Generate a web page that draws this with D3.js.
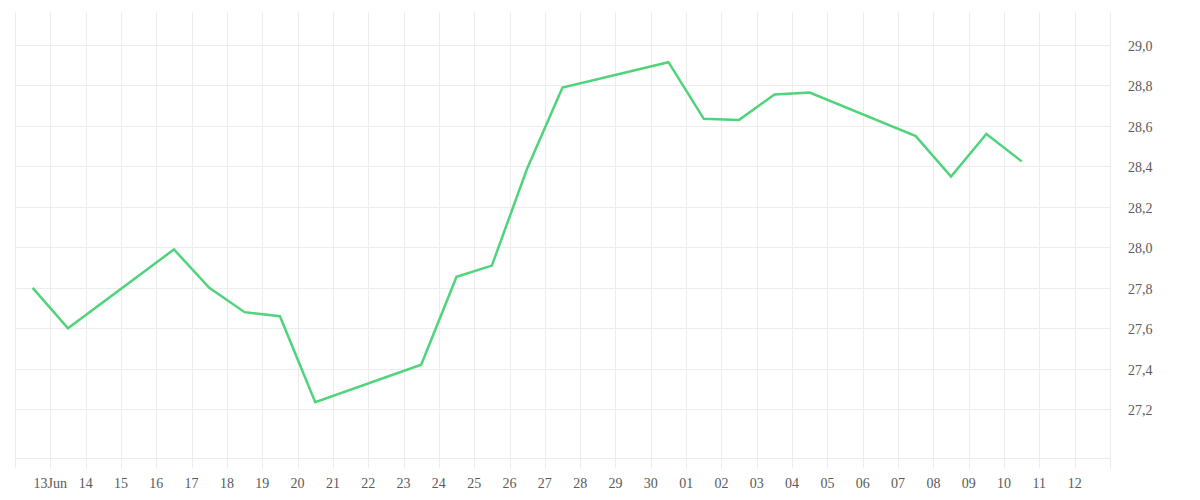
<!DOCTYPE html>
<html>
<head>
<meta charset="utf-8">
<script src="https://cdn.jsdelivr.net/npm/d3@7"></script>
<style>
  html, body { margin: 0; padding: 0; background: #fff; }
  svg { display: block; }
  text { font-family: "Liberation Serif", serif; font-size: 14px; fill: #5a5a5a; }
</style>
</head>
<body>
<svg id="chart" width="1200" height="500"></svg>
<script>
// ---- data ----
const dates = [
  "2023-06-12T12:00", "2023-06-13T12:00", "2023-06-16T12:00", "2023-06-17T12:00",
  "2023-06-18T12:00", "2023-06-19T12:00", "2023-06-20T12:00", "2023-06-23T12:00",
  "2023-06-24T12:00", "2023-06-25T12:00", "2023-06-26T12:00", "2023-06-27T12:00",
  "2023-06-30T12:00", "2023-07-01T12:00", "2023-07-02T12:00", "2023-07-03T12:00",
  "2023-07-04T12:00", "2023-07-07T12:00", "2023-07-08T12:00", "2023-07-09T12:00",
  "2023-07-10T12:00"
];
const values = [
  27.80, 27.60, 27.99, 27.80,
  27.68, 27.66, 27.235, 27.42,
  27.855, 27.91, 28.39, 28.79,
  28.915, 28.635, 28.63, 28.755,
  28.765, 28.55, 28.35, 28.56,
  28.425
];
const xTickLabels = ["13Jun","14","15","16","17","18","19","20","21","22","23","24","25","26","27","28","29","30",
  "01","02","03","04","05","06","07","08","09","10","11","12"];
const yTickValues = [27.2, 27.4, 27.6, 27.8, 28.0, 28.2, 28.4, 28.6, 28.8, 29.0];
const yTickLabels = ["27,2","27,4","27,6","27,8","28,0","28,2","28,4","28,6","28,8","29,0"];

// ---- layout ----
const mLeft = 15, mRight = 1110, mTop = 12, mBottom = 458.3, tickLen = 10;
const parseT = d3.utcParse("%Y-%m-%dT%H:%M");
const data = dates.map((d, i) => ({ t: parseT(d), v: values[i] }));

const x = d3.scaleUtc()
  .domain([Date.UTC(2023, 5, 12), Date.UTC(2023, 6, 13)])
  .range([mLeft, mRight]);
const y = d3.scaleLinear()
  .domain([26.958, 29.163])
  .range([mBottom, mTop]);

const svg = d3.select("#chart");
const grid = "#ececec";

// vertical day grid lines (with tick extension)
const dayTicks = d3.utcDay.range(new Date(Date.UTC(2023, 5, 12)), new Date(Date.UTC(2023, 6, 13, 1)));
svg.append("g").selectAll("line").data(dayTicks).join("line")
  .attr("x1", d => Math.round(x(d)) + 0.5).attr("x2", d => Math.round(x(d)) + 0.5)
  .attr("y1", mTop).attr("y2", mBottom + tickLen)
  .attr("stroke", grid).attr("stroke-width", 1);

// horizontal grid lines
svg.append("g").selectAll("line").data(yTickValues.concat([y.domain()[0]])).join("line")
  .attr("x1", mLeft).attr("x2", mRight)
  .attr("y1", d => Math.round(y(d)) + 0.5).attr("y2", d => Math.round(y(d)) + 0.5)
  .attr("stroke", grid).attr("stroke-width", 1);

// x labels (13 Jun .. 12 Jul)
const labelDays = dayTicks.slice(1, 1 + xTickLabels.length);
svg.append("g").selectAll("text").data(labelDays).join("text")
  .attr("x", d => x(d)).attr("y", 488)
  .attr("text-anchor", "middle")
  .text((d, i) => xTickLabels[i]);

// y labels (right side)
svg.append("g").selectAll("text").data(yTickValues).join("text")
  .attr("x", 1128).attr("y", d => y(d) + 6)
  .attr("text-anchor", "start")
  .text((d, i) => yTickLabels[i]);

// line
const line = d3.line().x(d => x(d.t)).y(d => y(d.v));
svg.append("path").datum(data)
  .attr("d", line)
  .attr("fill", "none")
  .attr("stroke", "#4fd37b")
  .attr("stroke-width", 2.5)
  .attr("stroke-linejoin", "miter");
</script>
</body>
</html>
